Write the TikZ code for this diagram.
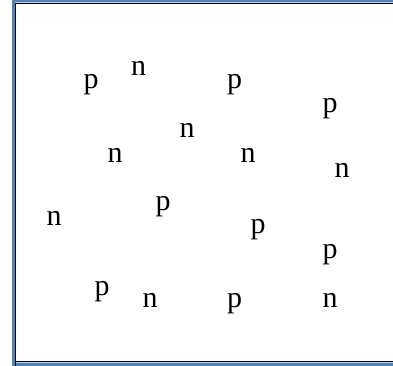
\documentclass[tikz,border=0pt]{standalone}
\usepackage{fontspec}
\setmainfont{Liberation Serif}
\usetikzlibrary{positioning}
\definecolor{frameblue}{RGB}{79,129,189}
\tikzset{
    carrier/.style={inner sep=0pt, anchor=base, font=\fontsize{30}{30}\selectfont}
}

\begin{document}
\begin{tikzpicture}[x=1pt, y=-1pt]
    \clip (0, 0) rectangle (393, 366);
    \fill[white] (0, 0) rectangle (393, 366);

    % frame
    \fill[frameblue, even odd rule] (12, 0) rectangle (400, 366) (15, 2.5) rectangle (397, 362.5);
    \draw[black, line width=1.3pt] (15.7, 400) -- (15.7, 3.2) -- (400, 3.2);
    \draw[black, line width=1.3pt] (15.7, 361.8) -- (400, 361.8);

    % top rows
    \node[carrier] (p1) at (91, 89) {p};
    \node[carrier] (n1) at (138.5, 76) {n};
    \node[carrier] (p2) at (234.5, 89) {p};
    \node[carrier] (p3) at (330, 113) {p};
    \node[carrier] (n2) at (187, 138) {n};
    \node[carrier] (n3) at (115, 163) {n};
    \node[carrier] (n4) at (248, 163) {n};
    \node[carrier] (n5) at (342, 178) {n};

    % bottom rows
    \node[carrier] (n6) at (54, 225) {n};
    \node[carrier] (p4) at (163, 210) {p};
    \node[carrier] (p5) at (258, 233) {p};
    \node[carrier] (p6) at (330, 258) {p};
    \node[carrier] (p7) at (102, 295) {p};
    \node[carrier] (n7) at (150, 307) {n};
    \node[carrier] (p8) at (234.5, 307) {p};
    \node[carrier] (n8) at (330, 307) {n};
\end{tikzpicture}
\end{document}
